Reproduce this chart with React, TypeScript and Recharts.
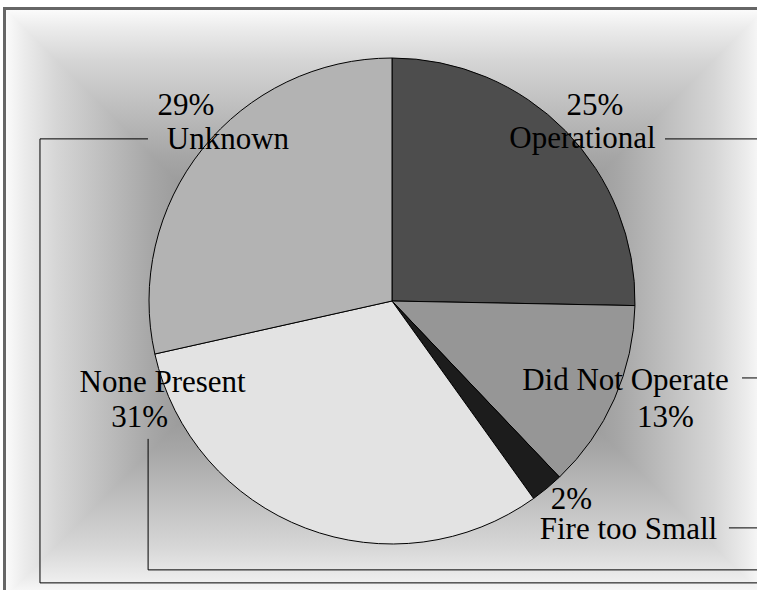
import React from 'react';
import { PieChart, Pie, Cell } from 'recharts';

const CATEGORIES = ['Operational', 'Did Not Operate', 'Fire too Small', 'None Present', 'Unknown'];
const VALUES = [25.3, 12.6, 2.2, 31.4, 28.5];
const COLORS = ['#4d4d4d', '#969696', '#1c1c1c', '#e3e3e3', '#b3b3b3'];

const data = CATEGORIES.map((name, i) => ({ name, value: VALUES[i] }));

const W = 757;
const H = 590;
const FONT = '"Liberation Serif", "Times New Roman", serif';

// label layout relative to pie centre / radius (name line anchor), percent-line offset, leader route
const LABEL_LAYOUT = [
  { fx: 0.784, fy: -0.63, pdx: 12.5, pdy: -33, leader: [[82.5, -9]] },
  { fx: 0.961, fy: 0.366, pdx: 40, pdy: 37, leader: [[116.5, -12]] },
  { fx: 0.973, fy: 0.979, pdx: -57, pdy: -30, leader: [[100.5, -11]] },
  { fx: -0.944, fy: 0.374, pdx: -23, pdy: 35, leader: [[-14.5, 47], [-14.5, 178]] },
  { fx: -0.675, fy: -0.626, pdx: -42, pdy: -34, leader: [[-80, -10], [-188, -10], [-188, 434]] },
];

const renderLabel = (props: any) => {
  const { cx, cy, outerRadius, index, value, name } = props;
  const L = LABEL_LAYOUT[index];
  const x = cx + L.fx * outerRadius;
  const y = cy + L.fy * outerRadius;
  const pts = L.leader.map(([dx, dy]) => [x + dx, y + dy]);
  const last = pts[pts.length - 1];
  pts.push([W + 20, last[1]]);
  const d = pts.map((p, i) => `${i === 0 ? 'M' : 'L'}${p[0]},${p[1]}`).join(' ');
  return (
    <g key={`lbl-${index}`}>
      <path d={d} stroke="#000" strokeWidth={1} fill="none" />
      <text x={x} y={y} textAnchor="middle" fontFamily={FONT} fontSize={31} fill="#000">
        {name}
      </text>
      <text x={x + L.pdx} y={y + L.pdy} textAnchor="middle" fontFamily={FONT} fontSize={31} fill="#000">
        {`${Math.round(value)}%`}
      </text>
    </g>
  );
};

const Background = () => {
  // rectangular "distance from edge" gradient
  const x0 = 6, y0 = 10, x1 = 764, y1 = 596;
  const h2 = (y1 - y0) / 2;
  const stops = (
    <>
      <stop offset="0" stopColor="#fbfbfb" />
      <stop offset="0.06" stopColor="#ececec" />
      <stop offset="0.17" stopColor="#d6d6d6" />
      <stop offset="0.5" stopColor="#a6a6a6" />
      <stop offset="1" stopColor="#707070" />
    </>
  );
  return (
    <svg width={W} height={H} style={{ position: 'absolute', left: 0, top: 0 }}>
      <defs>
        <linearGradient id="gTop" gradientUnits="userSpaceOnUse" x1={0} y1={y0} x2={0} y2={y0 + h2}>{stops}</linearGradient>
        <linearGradient id="gBot" gradientUnits="userSpaceOnUse" x1={0} y1={y1} x2={0} y2={y1 - h2}>{stops}</linearGradient>
        <linearGradient id="gLeft" gradientUnits="userSpaceOnUse" x1={x0} y1={0} x2={x0 + h2} y2={0}>{stops}</linearGradient>
        <linearGradient id="gRight" gradientUnits="userSpaceOnUse" x1={x1} y1={0} x2={x1 - h2} y2={0}>{stops}</linearGradient>
      </defs>
      <rect x={0} y={0} width={W} height={H} fill="#ffffff" />
      <polygon points={`${x0},${y0} ${x1},${y0} ${x1 - h2},${y0 + h2} ${x0 + h2},${y0 + h2}`} fill="url(#gTop)" stroke="url(#gTop)" strokeWidth={1.5} />
      <polygon points={`${x0},${y1} ${x1},${y1} ${x1 - h2},${y0 + h2} ${x0 + h2},${y0 + h2}`} fill="url(#gBot)" stroke="url(#gBot)" strokeWidth={1.5} />
      <polygon points={`${x0},${y0} ${x0 + h2},${y0 + h2} ${x0},${y1}`} fill="url(#gLeft)" stroke="url(#gLeft)" strokeWidth={1.5} />
      <polygon points={`${x1},${y0} ${x1 - h2},${y0 + h2} ${x1},${y1}`} fill="url(#gRight)" stroke="url(#gRight)" strokeWidth={1.5} />
      <rect x={4.5} y={8.5} width={790} height={620} fill="none" stroke="#666666" strokeWidth={3} />
    </svg>
  );
};

export default function App() {
  return (
    <div style={{ position: 'absolute', left: 0, top: 0, width: W, height: H, overflow: 'hidden' }}>
      <Background />
      <div style={{ position: 'absolute', left: 0, top: 0 }}>
        <PieChart width={W} height={H} margin={{ top: 0, right: 0, bottom: 0, left: 0 }}>
          <Pie
            data={data}
            dataKey="value"
            nameKey="name"
            cx={392}
            cy={301}
            outerRadius={243}
            startAngle={90}
            endAngle={-270}
            stroke="#000"
            strokeWidth={1}
            label={renderLabel}
            labelLine={false}
            isAnimationActive={false}
          >
            {data.map((d, i) => (
              <Cell key={d.name} fill={COLORS[i]} />
            ))}
          </Pie>
        </PieChart>
      </div>
    </div>
  );
}
